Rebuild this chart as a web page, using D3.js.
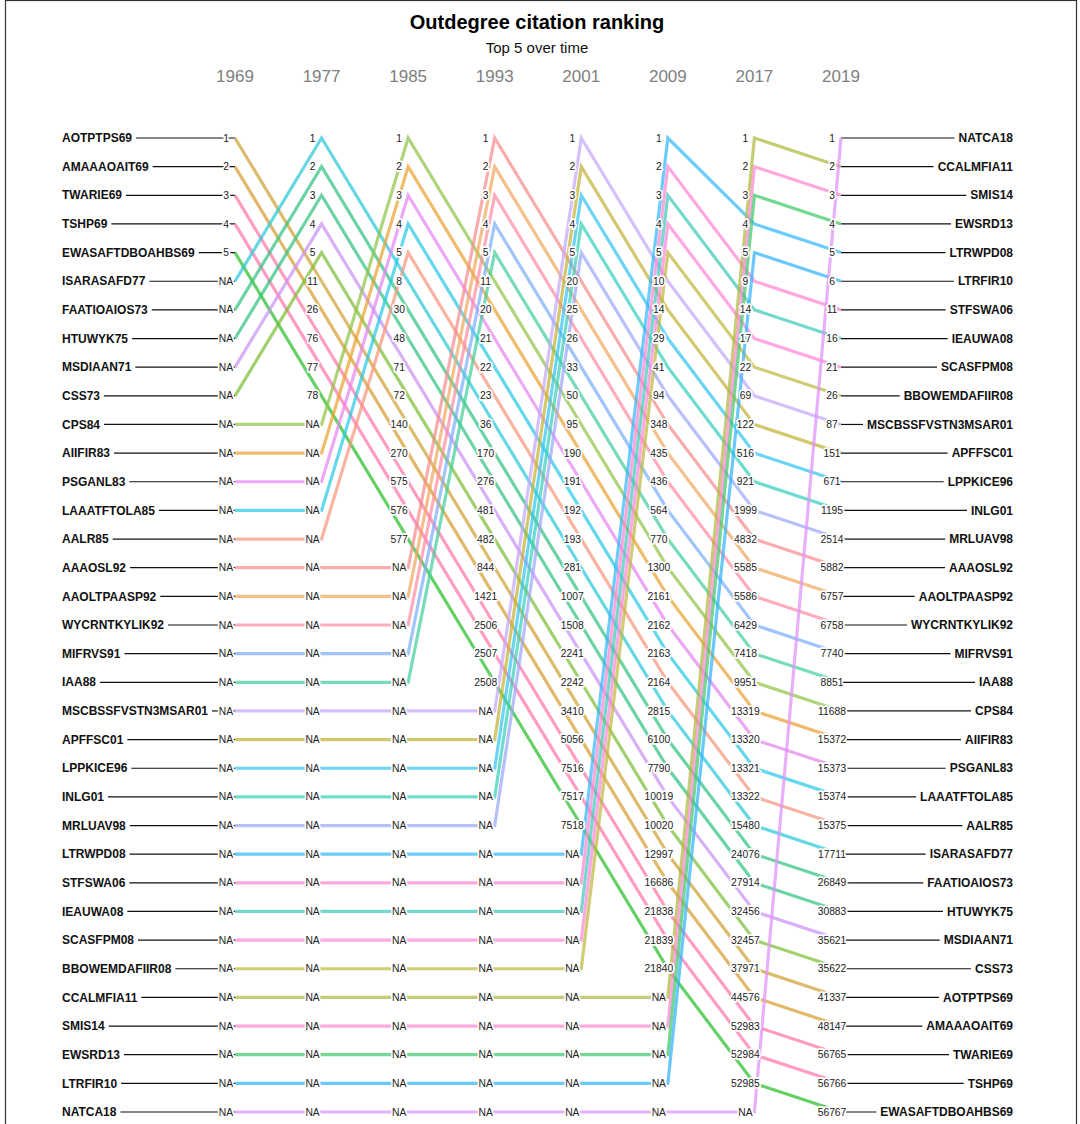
<!DOCTYPE html>
<html>
<head>
<meta charset="utf-8">
<script src="https://cdn.jsdelivr.net/npm/d3@7"></script>
<style>
  html, body { margin: 0; padding: 0; background: #fff; }
  svg { display: block; font-family: "Liberation Sans", Arial, sans-serif; }
</style>
</head>
<body>
<svg id="chart" width="1080" height="1124"></svg>
<script>
// ---------------- DATA ----------------
const years = ["1969", "1977", "1985", "1993", "2001", "2009", "2017", "2019"];

const items = [
  "AOTPTPS69", "AMAAAOAIT69", "TWARIE69", "TSHP69", "EWASAFTDBOAHBS69",
  "ISARASAFD77", "FAATIOAIOS73", "HTUWYK75", "MSDIAAN71", "CSS73",
  "CPS84", "AIIFIR83", "PSGANL83", "LAAATFTOLA85", "AALR85",
  "AAAOSL92", "AAOLTPAASP92", "WYCRNTKYLIK92", "MIFRVS91", "IAA88",
  "MSCBSSFVSTN3MSAR01", "APFFSC01", "LPPKICE96", "INLG01", "MRLUAV98",
  "LTRWPD08", "STFSWA06", "IEAUWA08", "SCASFPM08", "BBOWEMDAFIIR08",
  "CCALMFIA11", "SMIS14", "EWSRD13", "LTRFIR10", "NATCA18"
];

const N = null;
const rank1969 = [1,2,3,4,5, N,N,N,N,N, N,N,N,N,N, N,N,N,N,N, N,N,N,N,N, N,N,N,N,N, N,N,N,N,N];
const rank1977 = [11,26,76,77,78, 1,2,3,4,5, N,N,N,N,N, N,N,N,N,N, N,N,N,N,N, N,N,N,N,N, N,N,N,N,N];
const rank1985 = [140,270,575,576,577, 8,30,48,71,72, 1,2,3,4,5, N,N,N,N,N, N,N,N,N,N, N,N,N,N,N, N,N,N,N,N];
const rank1993 = [844,1421,2506,2507,2508, 36,170,276,481,482, 11,20,21,22,23, 1,2,3,4,5, N,N,N,N,N, N,N,N,N,N, N,N,N,N,N];
const rank2001 = [3410,5056,7516,7517,7518, 281,1007,1508,2241,2242, 95,190,191,192,193, 20,25,26,33,50, 1,2,3,4,5, N,N,N,N,N, N,N,N,N,N];
const rank2009 = [12997,16686,21838,21839,21840, 2815,6100,7790,10019,10020, 1300,2161,2162,2163,2164, 348,435,436,564,770, 10,14,29,41,94, 1,2,3,4,5, N,N,N,N,N];
const rank2017 = [37971,44576,52983,52984,52985, 15480,24076,27914,32456,32457, 9951,13319,13320,13321,13322, 4832,5585,5586,6429,7418, 69,122,516,921,1999, 4,9,14,17,22, 1,2,3,5, N];
const rank2019 = [41337,48147,56765,56766,56767, 17711,26849,30883,35621,35622, 11688,15372,15373,15374,15375, 5882,6757,6758,7740,8851, 87,151,671,1195,2514, 5,11,16,21,26, 2,3,4,6, 1];

const itemColors = [
  "#dcbc6c", "#e2b86a", "#ff9cc0", "#ff9cc4", "#66d066",
  "#66d8e4", "#6cd4a4", "#6cd4a4", "#d8b0f8", "#a0d070",
  "#b0d47c", "#f0bc6c", "#eca8f4", "#66d8ec", "#f8b4a0",
  "#f8acac", "#f4c08c", "#ffacbc", "#a0c4fc", "#78dcb8",
  "#d4c0fc", "#d4c870", "#6cd4f4", "#70dcd0", "#b8c0fc",
  "#6cccfc", "#ffa8e0", "#74d8cc", "#ffa8e4", "#d0cc74",
  "#c4cc74", "#ffa8dc", "#74d894", "#6cc8fc", "#e8b0fc"
];

const title = "Outdegree citation ranking";
const subtitle = "Top 5 over time";

// ---------------- BUILD ----------------
const ranksByYear = [rank1969, rank1977, rank1985, rank1993, rank2001, rank2009, rank2017, rank2019];

// row position in each year: sort by rank, NA last (in item order)
const rowOf = ranksByYear.map(ranks => {
  const order = d3.range(items.length).sort((a, b) => {
    const ra = ranks[a], rb = ranks[b];
    if (ra == null && rb == null) return a - b;
    if (ra == null) return 1;
    if (rb == null) return -1;
    return ra - rb;
  });
  const pos = new Array(items.length);
  order.forEach((it, r) => pos[it] = r);
  return {order, pos};
});

const svg = d3.select("#chart");
const x = d3.scalePoint().domain(years).range([235, 841]);
const y = d3.scalePoint().domain(d3.range(items.length)).range([138, 1112]);

// blend tint -> base color with opacity
const OP = 0.72;
function baseColor(hex) {
  const c = d3.rgb(hex);
  const f = v => Math.max(0, Math.min(255, (v - (1 - OP) * 255) / OP));
  return d3.rgb(f(c.r), f(c.g), f(c.b)).formatHex();
}

// frame
svg.append("rect").attr("x", 5.5).attr("y", 0.5).attr("width", 1071).attr("height", 1140)
  .attr("fill", "none").attr("stroke", "#333").attr("stroke-width", 1.2);

// title
svg.append("text").attr("x", 537).attr("y", 29).attr("text-anchor", "middle")
  .attr("font-size", 20).attr("font-weight", "bold").attr("fill", "#000").text(title);
svg.append("text").attr("x", 537).attr("y", 53).attr("text-anchor", "middle")
  .attr("font-size", 15).attr("fill", "#111").text(subtitle);

// year headers
svg.append("g").selectAll("text").data(years).join("text")
  .attr("x", d => x(d)).attr("y", 82).attr("text-anchor", "middle")
  .attr("font-size", 17).attr("fill", "#808080").text(d => d);

// left names
const leftG = svg.append("g");
rowOf[0].order.forEach((it, r) => {
  const t = leftG.append("text").attr("x", 62).attr("y", y(r)).attr("dy", "0.35em")
    .attr("font-size", 12).attr("font-weight", "bold").attr("fill", "#111").text(items[it]);
  const w = t.node().getComputedTextLength();
  leftG.append("line").attr("x1", 62 + w + 4).attr("x2", x(years[0]))
    .attr("y1", y(r)).attr("y2", y(r)).attr("stroke", "#111").attr("stroke-width", 1.2);
});

// right names
const last = years.length - 1;
const rightG = svg.append("g");
rowOf[last].order.forEach((it, r) => {
  const t = rightG.append("text").attr("x", 1013).attr("y", y(r)).attr("dy", "0.35em")
    .attr("text-anchor", "end")
    .attr("font-size", 12).attr("font-weight", "bold").attr("fill", "#111").text(items[it]);
  const w = t.node().getComputedTextLength();
  rightG.append("line").attr("x1", x(years[last])).attr("x2", 1013 - w - 4)
    .attr("y1", y(r)).attr("y2", y(r)).attr("stroke", "#111").attr("stroke-width", 1.2);
});

// lines per item
const line = d3.line().x(d => x(d.year)).y(d => y(d.row));
svg.append("g").selectAll("path").data(items.map((name, i) => ({
    name, i, pts: years.map((yr, k) => ({year: yr, row: rowOf[k].pos[i]}))
  })))
  .join("path")
  .attr("d", d => line(d.pts))
  .attr("fill", "none")
  .attr("stroke", d => baseColor(itemColors[d.i]))
  .attr("stroke-opacity", OP)
  .attr("stroke-width", 3.2);

// rank labels
const labG = svg.append("g");
years.forEach((yr, k) => {
  rowOf[k].order.forEach((it, r) => {
    const v = ranksByYear[k][it];
    labG.append("text")
      .attr("x", x(yr) - 9).attr("y", y(r)).attr("dy", "0.35em")
      .attr("text-anchor", "middle").attr("font-size", 10.3).attr("fill", "#222")
      .attr("stroke", "#fff").attr("stroke-width", 3.5).attr("paint-order", "stroke")
      .attr("stroke-linejoin", "round")
      .text(v == null ? "NA" : v);
  });
});
</script>
</body>
</html>
